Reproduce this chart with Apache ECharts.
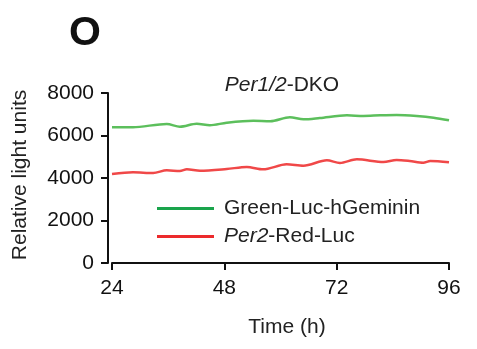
<!DOCTYPE html>
<html><head><meta charset="utf-8">
<script src="https://cdn.jsdelivr.net/npm/echarts@6/dist/echarts.min.js"></script>
<style>html,body{margin:0;padding:0;background:#fff}#c{width:477px;height:349px}</style>
</head><body><div id="c"></div>
<script>
const greenHours = [24, 28.5, 35.7, 38.5, 42.1, 44.9, 48.5, 54.2, 57.8, 62, 64.9, 68.4, 74.2, 77.7, 81.3, 84.8, 89.1, 92.7, 96];
const greenValues = [6386, 6390, 6541, 6416, 6555, 6480, 6604, 6698, 6667, 6856, 6761, 6824, 6949, 6918, 6949, 6965, 6918, 6839, 6714];
const redHours = [24, 28.5, 32.8, 35.7, 38.5, 40, 42.8, 48.5, 52.8, 56.3, 61.3, 64.9, 69.9, 72.7, 76.3, 82, 84.8, 87.6, 90.5, 92, 96];
const redValues = [4188, 4267, 4235, 4361, 4329, 4408, 4345, 4424, 4518, 4408, 4643, 4580, 4831, 4706, 4879, 4753, 4847, 4800, 4722, 4800, 4737];
const xTicks = [24, 48, 72, 96];
const yTicks = [0, 2000, 4000, 6000, 8000];
const seriesNames = ['Green-Luc-hGeminin', 'Per2-Red-Luc'];

const font = '"Liberation Sans", Arial, sans-serif';
const fs = 21;
const chart = echarts.init(document.getElementById('c'));
chart.setOption({
  animation: false,
  grid: {left: 112, right: 28, top: 93, bottom: 86},
  xAxis: {
    type: 'value', min: xTicks[0], max: xTicks[xTicks.length-1], interval: 24, offset: 5,
    axisLine: {lineStyle: {color: '#111', width: 2}},
    axisTick: {length: 7, lineStyle: {color: '#111', width: 2}},
    axisLabel: {fontFamily: font, fontSize: fs, color: '#111', margin: 10, formatter: v => String(v)},
    splitLine: {show: false}
  },
  yAxis: {
    type: 'value', min: yTicks[0], max: yTicks[yTicks.length-1], interval: 2000, offset: 4,
    axisLine: {show: true, lineStyle: {color: '#111', width: 2}},
    axisTick: {show: true, length: 7, lineStyle: {color: '#111', width: 2}},
    axisLabel: {fontFamily: font, fontSize: fs, color: '#111', margin: 14, formatter: v => String(v)},
    splitLine: {show: false}
  },
  legend: {
    orient: 'vertical', left: 157, top: 198, padding: 0, itemWidth: 57, itemHeight: 3, itemGap: 7,
    icon: 'rect',
    data: [
      {name: seriesNames[0], itemStyle: {color: '#1aa44c'}},
      {name: seriesNames[1], itemStyle: {color: '#ec2a2c'}}
    ],
    formatter: function (n) { return n === seriesNames[1] ? '{i|Per2}-Red-Luc' : n; },
    textStyle: {fontFamily: font, fontSize: fs, color: '#222', lineHeight: 21, padding: [0,0,0,5],
      rich: {i: {fontFamily: font, fontSize: fs, fontStyle: 'italic', color: '#222'}}}
  },
  graphic: [
    {type: 'text', left: 69, top: 13, style: {text: 'O', font: 'bold 41px ' + font, fill: '#111'}},
    {type: 'text', x: 282, y: 85, style: {text: '{i|Per1/2}-DKO', font: fs + 'px ' + font, fill: '#222', align: 'center', verticalAlign: 'middle',
      rich: {i: {font: 'italic ' + fs + 'px ' + font, fill: '#222'}}}},
    {type: 'text', x: 287, y: 327, style: {text: 'Time (h)', font: fs + 'px ' + font, fill: '#222', align: 'center', verticalAlign: 'middle'}},
    {type: 'text', x: 20, y: 175, rotation: Math.PI/2, style: {text: 'Relative light units', font: fs + 'px ' + font, fill: '#222', align: 'center', verticalAlign: 'middle'}}
  ],
  series: [
    {name: seriesNames[0], type: 'line', symbol: 'none', smooth: 0.3,
      data: greenHours.map((h, i) => [h, greenValues[i]]),
      lineStyle: {color: '#5cbf5c', width: 2.5}, itemStyle: {color: '#1aa44c'}},
    {name: seriesNames[1], type: 'line', symbol: 'none', smooth: 0.3,
      data: redHours.map((h, i) => [h, redValues[i]]),
      lineStyle: {color: '#f04848', width: 2.5}, itemStyle: {color: '#ec2a2c'}}
  ]
});
</script></body></html>
